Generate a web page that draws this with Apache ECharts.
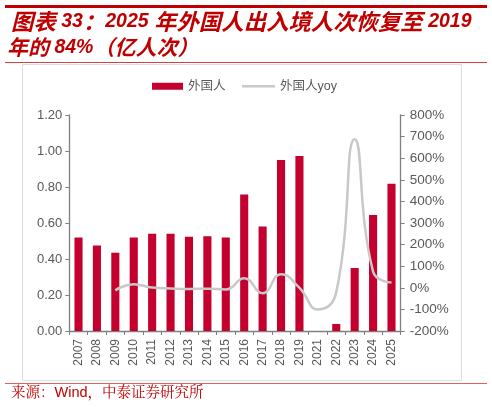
<!DOCTYPE html>
<html>
<head>
<meta charset="utf-8">
<script src="https://cdn.jsdelivr.net/npm/echarts@6/dist/echarts.min.js"></script>
<style>
html,body{margin:0;padding:0;background:#fff;}
#c{width:492px;height:407px;}
</style>
</head>
<body>
<div id="c"></div>
<script>
var categories = ['2007','2008','2009','2010','2011','2012','2013','2014','2015','2016','2017','2018','2019','2021','2022','2023','2024','2025'];
var foreignVisits = [0.52,0.475,0.435,0.52,0.54,0.54,0.523,0.527,0.52,0.758,0.58,0.95,0.972,null,0.039,0.35,0.645,0.818];
var foreignYoy = [null,null,-12,17,1,-3,-5,-4,-8,44,-25,63,0,-100,-20,688,75,24];
var leftTicks = {min:0,max:1.2,interval:0.2};
var rightTicks = {min:-200,max:800,interval:100};
var titleLine1 = '{c|图表}{n| 33}{c|：}{n|2025 }{c|年外国人出入境人次恢复至}{n| 2019}';
var titleLine2 = '{c|年的}{n| 84%}{c|（亿人次）}';
var sourceText = '来源：Wind，中泰证券研究所';

var chart = echarts.init(document.getElementById('c'), null, {renderer:'canvas'});
var red = '#C00000';
var barColor = '#C4002F';
var gray = '#595959';
var font = 'Arial, "Liberation Sans", "Noto Sans CJK SC", sans-serif';
var titleRich = {
  c:{fontSize:22.4,fontWeight:'bold',fontStyle:'italic',fontFamily:'"Noto Sans CJK SC", sans-serif',fill:red,color:red},
  n:{fontSize:19.5,fontWeight:'bold',fontStyle:'italic',fontFamily:'Arial, "Liberation Sans", sans-serif',fill:red,color:red}
};
var titleRich2 = {
  c:{fontSize:21,fontWeight:'bold',fontStyle:'italic',fontFamily:'"Noto Sans CJK SC", sans-serif',fill:red,color:red},
  n:{fontSize:19.5,fontWeight:'bold',fontStyle:'italic',fontFamily:'Arial, "Liberation Sans", sans-serif',fill:red,color:red}
};
chart.setOption({
  animation:false,
  backgroundColor:'#fff',
  graphic:[
    {type:'rect',shape:{x:5,y:5,width:482,height:3},style:{fill:red},silent:true},
    {type:'text',left:11,top:10,style:{text:titleLine1,rich:titleRich}},
    {type:'text',left:7,top:37,style:{text:titleLine2,rich:titleRich2}},
    {type:'rect',shape:{x:5,y:62,width:482,height:1},style:{fill:'#D04040'},silent:true},
    {type:'rect',shape:{x:22.5,y:64.5,width:439,height:316},style:{fill:'none',stroke:'#DCDCDC',lineWidth:1},silent:true},
    {type:'rect',shape:{x:5,y:383,width:482,height:1},style:{fill:'#E06060'},silent:true},
    {type:'text',left:11,top:386,style:{text:sourceText,fill:red,font:'14.5px Arial, "Noto Serif CJK SC", "Noto Sans CJK SC", sans-serif'}}
  ],
  legend:[
    {top:80,left:152,padding:0,itemWidth:31,itemHeight:7,
     textStyle:{color:gray,fontSize:12.5,fontFamily:font},
     data:[{name:'外国人',icon:'rect'}]},
    {top:80,left:242,padding:0,itemWidth:33,itemHeight:2.5,
     textStyle:{color:gray,fontSize:12.5,fontFamily:font},
     data:[{name:'外国人yoy',icon:'rect'}]}
  ],
  grid:{left:69.3,right:91.3,top:115,bottom:76,containLabel:false},
  xAxis:{
    type:'category',
    data:categories,
    boundaryGap:true,
    axisLine:{lineStyle:{color:'#7F7F7F',width:1.3}},
    axisTick:{show:true,alignWithLabel:false,length:4,lineStyle:{color:'#7F7F7F'}},
    axisLabel:{rotate:90,color:gray,fontSize:12,fontFamily:font,margin:8,interval:0}
  },
  yAxis:[
    {type:'value',min:leftTicks.min,max:leftTicks.max,interval:leftTicks.interval,
     axisLine:{show:true,lineStyle:{color:'#7F7F7F',width:1.3}},
     axisTick:{show:true,length:4,lineStyle:{color:'#7F7F7F'}},
     splitLine:{show:false},
     axisLabel:{color:gray,fontSize:13,fontFamily:font,margin:7,formatter:function(v){return v.toFixed(2);}}},
    {type:'value',min:rightTicks.min,max:rightTicks.max,interval:rightTicks.interval,position:'right',
     axisLine:{show:true,lineStyle:{color:'#7F7F7F',width:1.3}},
     axisTick:{show:true,length:4,lineStyle:{color:'#7F7F7F'}},
     splitLine:{show:false},
     axisLabel:{color:gray,fontSize:13.5,fontFamily:font,margin:9,formatter:'{value}%'}}
  ],
  series:[
    {name:'外国人',type:'bar',data:foreignVisits,yAxisIndex:0,barWidth:'44%',itemStyle:{color:barColor}},
    {name:'外国人yoy',type:'line',data:foreignYoy,yAxisIndex:1,smooth:0.5,showSymbol:false,symbol:'none',
     lineStyle:{color:'#C8C8C8',width:2.5},itemStyle:{color:'#C8C8C8'}}
  ]
});
</script>
</body>
</html>
